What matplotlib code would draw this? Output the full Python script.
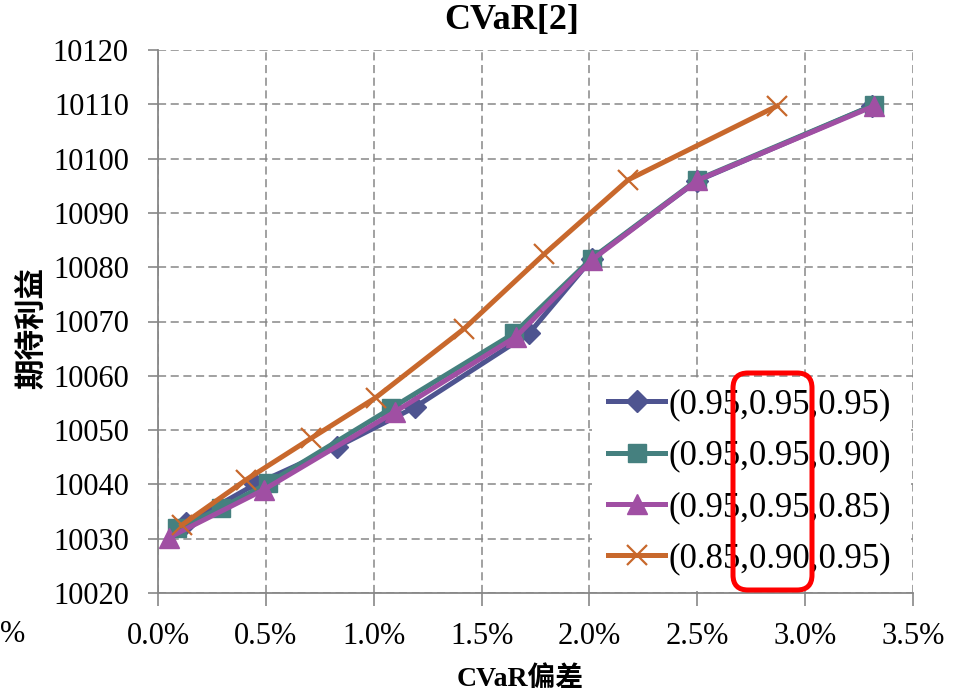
import matplotlib.pyplot as plt
from matplotlib.patches import Rectangle, FancyBboxPatch
from matplotlib.ticker import FuncFormatter, MultipleLocator

# CVaR偏差 (%) と期待利益, 信頼水平の組合せごと
labels = ['(0.95,0.95,0.95)', '(0.95,0.95,0.90)', '(0.95,0.95,0.85)', '(0.85,0.90,0.95)']

dev_a = [0.13, 0.45, 0.83, 1.19, 1.72, 2.01, 2.50, 3.31]
profit_a = [10032.8, 10040.0, 10046.9, 10054.2, 10067.8, 10081.5, 10095.9, 10109.7]

dev_b = [0.09, 0.29, 0.51, 1.08, 1.65, 2.01, 2.50, 3.32]
profit_b = [10031.9, 10035.6, 10040.2, 10054.0, 10067.8, 10081.6, 10096.1, 10109.9]

dev_c = [0.05, 0.49, 1.10, 1.66, 2.01, 2.50, 3.32]
profit_c = [10030.2, 10039.0, 10053.4, 10067.2, 10081.3, 10096.0, 10109.7]

dev_d = [0.11, 0.41, 0.71, 1.01, 1.42, 1.79, 2.18, 2.87]
profit_d = [10032.5, 10040.9, 10048.5, 10056.0, 10068.7, 10082.4, 10096.1, 10109.7]

serif = ['Liberation Serif', 'DejaVu Serif']
cjk = ['Noto Sans CJK SC', 'DejaVu Sans']
mixed = ['Liberation Serif', 'Noto Sans CJK SC', 'DejaVu Sans']
plt.rcParams['font.family'] = serif
plt.rcParams['font.serif'] = serif

fig = plt.figure(figsize=(9.55, 6.93), dpi=100)
ax = fig.add_axes([158 / 955, 1 - 593 / 693, 755 / 955, 543 / 693])

ax.plot(dev_a, profit_a, color='#4E5490', lw=3.6, marker='D', ms=11,
        label=labels[0], zorder=3)
ax.plot(dev_b, profit_b, color='#45807F', lw=3.6, marker='s', ms=13,
        label=labels[1], zorder=3.1)
ax.plot(dev_c, profit_c, color='#A04FA3', lw=3.6, marker='^', ms=15,
        label=labels[2], zorder=3.2)
ax.plot(dev_d, profit_d, color='#C8682C', lw=3.6, marker='x', ms=14, mew=1.6,
        label=labels[3], zorder=3.3)

ax.set_xlim(0, 3.5)
ax.set_ylim(10020, 10120)
ax.xaxis.set_major_locator(MultipleLocator(0.5))
ax.yaxis.set_major_locator(MultipleLocator(10))
ax.xaxis.set_major_formatter(FuncFormatter(lambda v, p: f'{v:.1f}%'))

ax.set_axisbelow(True)
ax.grid(True, color='#878787', lw=1.1, ls=(0, (5.3, 3)))
for side in ['top', 'right']:
    ax.spines[side].set_visible(False)
for side in ['left', 'bottom']:
    ax.spines[side].set_color('#878787')
    ax.spines[side].set_linewidth(1.3)

ax.tick_params(axis='y', direction='out', length=7, width=1.2, color='#878787',
               labelsize=22, pad=14)
ax.tick_params(axis='x', direction='out', length=9, width=1.2, color='#878787',
               labelsize=22, pad=12)
for lab in ax.get_xticklabels() + ax.get_yticklabels():
    lab.set_family(serif)

# 凡例の背景
ax.add_patch(Rectangle((0.575, 0.004), 0.422, 0.39, transform=ax.transAxes,
                       facecolor='white', edgecolor='none', zorder=1.5))
leg = ax.legend(loc='upper left', bbox_to_anchor=(0.596, 0.377), frameon=False,
                prop={'family': serif, 'size': 25}, handlelength=1.65,
                handletextpad=0.1, labelspacing=0.53, borderpad=0,
                borderaxespad=0)

fig.text(512 / 955, 1 - 21 / 693, 'CVaR[2]', ha='center', va='center',
         fontsize=26, fontweight='bold', family=serif)
fig.text(32 / 955, 1 - 328 / 693, '期待利益', ha='center', va='center',
         rotation=90, fontsize=22, fontweight='bold', family=cjk)
fig.text(520 / 955, 1 - 679 / 693, 'CVaR偏差', ha='center', va='center',
         fontsize=20, fontweight='bold', family=mixed)
fig.text(0.0, 1 - 635 / 693, '%', ha='left', va='center', fontsize=22,
         family=serif)

# 赤枠
box = FancyBboxPatch((7.33, 1.03), 0.79, 2.17,
                     boxstyle='round,pad=0,rounding_size=0.15',
                     transform=fig.dpi_scale_trans, facecolor='none',
                     edgecolor='#FF0000', lw=3.6, zorder=10)
fig.add_artist(box)

fig.savefig('out.png', dpi=100)
